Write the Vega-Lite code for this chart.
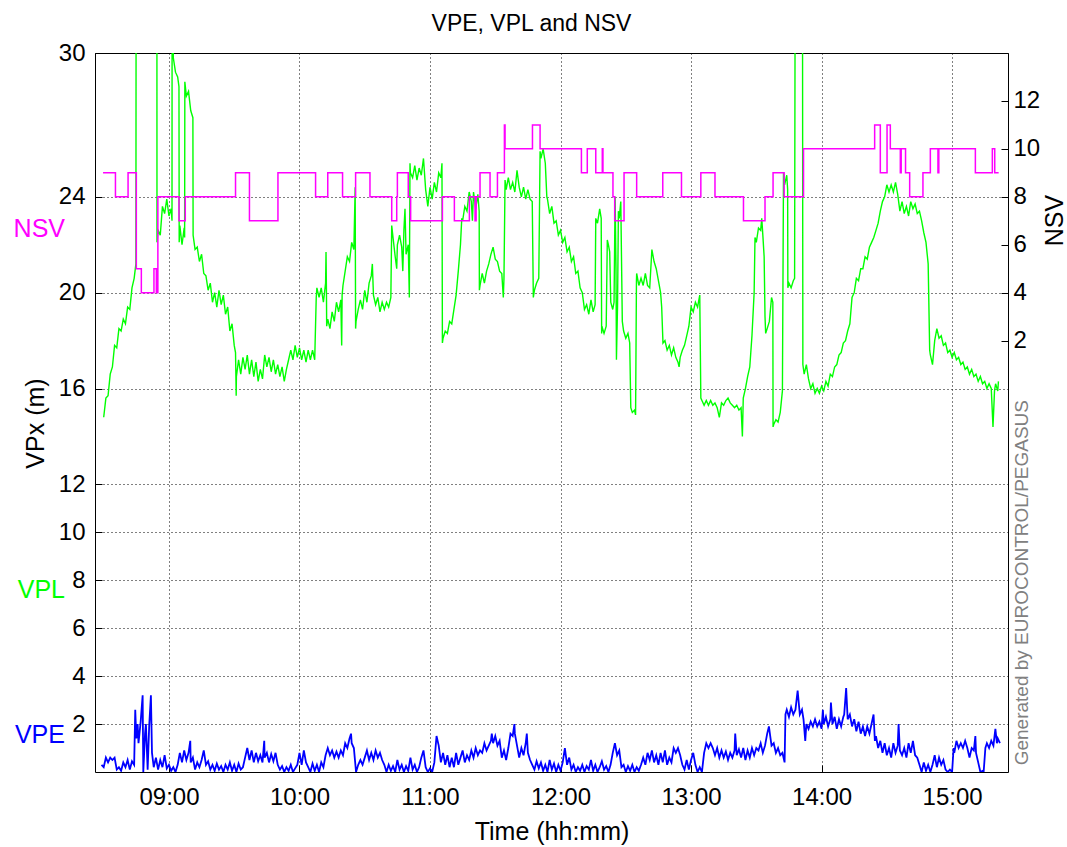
{
"$schema":"https://vega.github.io/schema/vega-lite/v6.json",
"width":913,"height":719,
"autosize":{"type":"none"},
"padding":{"left":95,"top":53,"right":59,"bottom":75},
"background":"#ffffff",
"title":{"text":"VPE, VPL and NSV","font":"Liberation Sans","fontSize":23,"fontWeight":"normal","color":"#000","offset":5,"anchor":"middle","dx":-20},
"config":{"view":{"stroke":"#000","strokeWidth":1},"font":"Liberation Sans",
 "axis":{"labelFont":"Liberation Sans","titleFont":"Liberation Sans","labelColor":"#000","titleColor":"#000","titleFontWeight":"normal","labelFontSize":24,"titleFontSize":25,"domain":false,"tickColor":"#000","gridColor":"#000","gridOpacity":1,"gridDash":[1,3],"gridWidth":1}},
"datasets":{
"vpl":[
{"t":510,"v":14.8},{"t":511,"v":15.6},{"t":512,"v":15.7},{"t":513,"v":16.6},{"t":514,"v":16.9},{"t":515,"v":17.8},{"t":516,"v":17.7},{"t":517,"v":18.5},{"t":518,"v":18.4},{"t":519,"v":18.9},{"t":520,"v":18.7},{"t":521,"v":19.4},{"t":522,"v":19.3},{"t":523,"v":20.2},{"t":524,"v":20.6},{"t":524.8,"v":21.2},{"t":525,"v":45},{"t":534.4,"v":45},{"t":534.5,"v":22.1},{"t":535,"v":22.6},{"t":536,"v":22.4},{"t":537,"v":23.6},{"t":538,"v":23.3},{"t":539,"v":23.9},{"t":540,"v":23.2},{"t":541,"v":23.5},{"t":541.4,"v":23.0},{"t":541.5,"v":45},{"t":542,"v":29.8},{"t":543,"v":29.2},{"t":544,"v":29.0},{"t":544.6,"v":28.6},{"t":544.7,"v":22.1},{"t":545,"v":22.8},{"t":546,"v":22.0},{"t":547,"v":22.7},{"t":547.2,"v":22.3},{"t":547.3,"v":28.8},{"t":548,"v":28.2},{"t":549,"v":28.4},{"t":550,"v":27.6},{"t":551,"v":27.3},{"t":551.1,"v":22.4},{"t":552,"v":21.8},{"t":553,"v":21.9},{"t":554,"v":21.3},{"t":555,"v":21.6},{"t":556,"v":20.8},{"t":557,"v":20.7},{"t":558,"v":20.1},{"t":559,"v":20.4},{"t":560,"v":19.6},{"t":561,"v":20.0},{"t":562,"v":19.4},{"t":563,"v":20.1},{"t":564,"v":19.5},{"t":565,"v":19.9},{"t":566,"v":19.1},{"t":567,"v":19.4},{"t":568,"v":18.4},{"t":569,"v":18.7},{"t":570,"v":17.8},{"t":570.6,"v":17.5},{"t":570.9,"v":15.7},{"t":571,"v":16.5},{"t":572,"v":17.2},{"t":573,"v":16.6},{"t":574,"v":17.3},{"t":575,"v":16.8},{"t":576,"v":17.4},{"t":577,"v":16.6},{"t":578,"v":17.2},{"t":579,"v":16.5},{"t":580,"v":17.1},{"t":581,"v":16.3},{"t":582,"v":16.8},{"t":583,"v":16.4},{"t":584,"v":17.4},{"t":585,"v":16.9},{"t":586,"v":17.3},{"t":587,"v":16.7},{"t":588,"v":17.2},{"t":589,"v":16.6},{"t":590,"v":17.0},{"t":591,"v":16.5},{"t":592,"v":16.9},{"t":593,"v":16.3},{"t":594,"v":16.8},{"t":595,"v":17.2},{"t":596,"v":17.6},{"t":597,"v":17.2},{"t":598,"v":17.8},{"t":599,"v":17.3},{"t":600,"v":17.7},{"t":601,"v":17.2},{"t":602,"v":17.6},{"t":603,"v":17.1},{"t":604,"v":17.6},{"t":605,"v":17.2},{"t":606,"v":17.6},{"t":607,"v":17.2},{"t":607.7,"v":19.8},{"t":608,"v":20.2},{"t":609,"v":19.8},{"t":610,"v":20.2},{"t":611,"v":19.6},{"t":612,"v":20.4},{"t":612.2,"v":21.7},{"t":612.4,"v":20.0},{"t":612.5,"v":18.6},{"t":613,"v":18.9},{"t":614,"v":18.5},{"t":615,"v":19.2},{"t":616,"v":18.8},{"t":617,"v":19.6},{"t":618,"v":19.2},{"t":619,"v":19.7},{"t":619.4,"v":17.8},{"t":619.6,"v":19.9},{"t":620,"v":20.3},{"t":621,"v":20.9},{"t":622,"v":21.5},{"t":623,"v":21.3},{"t":624,"v":22.1},{"t":625,"v":21.8},{"t":625.6,"v":24.4},{"t":625.8,"v":18.5},{"t":626,"v":18.8},{"t":627,"v":19.3},{"t":628,"v":19.7},{"t":629,"v":19.3},{"t":630,"v":20.1},{"t":631,"v":19.6},{"t":632,"v":20.4},{"t":633,"v":20.7},{"t":633.5,"v":21.2},{"t":634,"v":19.9},{"t":635,"v":19.5},{"t":636,"v":19.8},{"t":637,"v":19.2},{"t":638,"v":19.6},{"t":639,"v":19.3},{"t":640,"v":19.6},{"t":641,"v":19.4},{"t":642,"v":19.8},{"t":642.4,"v":22.8},{"t":643,"v":22.3},{"t":644,"v":21.5},{"t":644.7,"v":21.0},{"t":645,"v":22.0},{"t":646,"v":22.4},{"t":647,"v":21.9},{"t":647.5,"v":20.9},{"t":648,"v":22.6},{"t":648.5,"v":23.5},{"t":649,"v":21.6},{"t":650,"v":22.0},{"t":650.5,"v":19.8},{"t":650.8,"v":25.4},{"t":651,"v":25.0},{"t":652,"v":24.8},{"t":653,"v":25.3},{"t":654,"v":24.7},{"t":655,"v":25.2},{"t":656,"v":24.9},{"t":657,"v":25.6},{"t":658,"v":24.3},{"t":659,"v":23.6},{"t":660,"v":24.4},{"t":661,"v":23.9},{"t":662,"v":24.6},{"t":663,"v":24.2},{"t":664,"v":25.0},{"t":665,"v":24.8},{"t":665.5,"v":25.4},{"t":665.7,"v":17.9},{"t":666,"v":18.1},{"t":667,"v":18.4},{"t":668,"v":18.3},{"t":669,"v":18.8},{"t":670,"v":18.7},{"t":671,"v":19.3},{"t":672,"v":19.9},{"t":673,"v":20.9},{"t":674,"v":22.0},{"t":674.6,"v":23.1},{"t":675,"v":23.0},{"t":676,"v":23.6},{"t":677,"v":23.4},{"t":678,"v":24.2},{"t":679,"v":23.8},{"t":679.5,"v":23.0},{"t":680,"v":24.2},{"t":681,"v":23.5},{"t":682,"v":24.1},{"t":682.6,"v":23.4},{"t":682.7,"v":20.1},{"t":683,"v":20.3},{"t":684,"v":20.8},{"t":685,"v":20.4},{"t":686,"v":20.9},{"t":687,"v":21.2},{"t":688,"v":21.6},{"t":689,"v":21.9},{"t":690,"v":21.4},{"t":691,"v":21.3},{"t":692,"v":20.9},{"t":693,"v":20.8},{"t":693.7,"v":19.8},{"t":694,"v":20.6},{"t":694.5,"v":24.7},{"t":695,"v":24.3},{"t":696,"v":24.8},{"t":697,"v":24.3},{"t":698,"v":24.6},{"t":699,"v":24.2},{"t":700,"v":25.1},{"t":701,"v":24.4},{"t":702,"v":24.0},{"t":703,"v":24.4},{"t":704,"v":23.9},{"t":705,"v":24.3},{"t":706,"v":23.9},{"t":707,"v":23.8},{"t":707.5,"v":19.8},{"t":708,"v":20.1},{"t":709,"v":20.4},{"t":710,"v":20.6},{"t":710.6,"v":25.9},{"t":711,"v":25.6},{"t":712,"v":26.0},{"t":713,"v":25.4},{"t":713.7,"v":24.0},{"t":714,"v":23.9},{"t":715,"v":23.3},{"t":716,"v":23.6},{"t":717,"v":22.9},{"t":718,"v":23.0},{"t":719,"v":22.4},{"t":720,"v":22.6},{"t":721,"v":22.1},{"t":722,"v":22.3},{"t":723,"v":21.7},{"t":724,"v":21.9},{"t":725,"v":21.3},{"t":726,"v":21.5},{"t":727,"v":20.8},{"t":728,"v":20.9},{"t":729,"v":20.2},{"t":730,"v":20.0},{"t":731,"v":19.3},{"t":732,"v":19.5},{"t":733,"v":19.1},{"t":734,"v":19.7},{"t":735,"v":19.2},{"t":735.9,"v":19.5},{"t":736.2,"v":23.1},{"t":737,"v":22.9},{"t":738,"v":23.5},{"t":738.7,"v":23.1},{"t":738.9,"v":18.3},{"t":739,"v":18.6},{"t":740,"v":18.3},{"t":741,"v":18.6},{"t":741.5,"v":22.2},{"t":742,"v":22.0},{"t":742.6,"v":21.7},{"t":743.1,"v":19.6},{"t":744,"v":19.3},{"t":744.6,"v":19.6},{"t":745.1,"v":24.0},{"t":745.5,"v":21.0},{"t":745.7,"v":17.2},{"t":746.2,"v":19.4},{"t":746.6,"v":23.4},{"t":747,"v":23.1},{"t":747.7,"v":23.8},{"t":748.4,"v":18.8},{"t":749,"v":18.4},{"t":750,"v":18.1},{"t":751,"v":18.3},{"t":751.8,"v":17.9},{"t":752.3,"v":15.2},{"t":753,"v":15.0},{"t":754,"v":15.1},{"t":754.5,"v":14.9},{"t":754.9,"v":20.5},{"t":755,"v":20.8},{"t":756,"v":20.3},{"t":757,"v":20.6},{"t":758,"v":20.3},{"t":759,"v":20.8},{"t":760,"v":20.3},{"t":761,"v":20.2},{"t":762,"v":21.8},{"t":763,"v":21.3},{"t":764,"v":21.0},{"t":765,"v":20.5},{"t":766,"v":20.0},{"t":766.5,"v":19.4},{"t":767.1,"v":17.9},{"t":768,"v":18.0},{"t":769,"v":17.6},{"t":770,"v":17.8},{"t":771,"v":17.4},{"t":772,"v":17.7},{"t":773,"v":17.3},{"t":774,"v":17.1},{"t":774.5,"v":16.9},{"t":775,"v":17.3},{"t":776,"v":17.6},{"t":777,"v":17.8},{"t":778,"v":18.2},{"t":779,"v":18.6},{"t":780,"v":19.4},{"t":781,"v":19.2},{"t":782,"v":19.6},{"t":783,"v":19.4},{"t":784,"v":19.9},{"t":784.5,"v":15.6},{"t":785,"v":15.5},{"t":786,"v":15.3},{"t":787,"v":15.5},{"t":788,"v":15.3},{"t":789,"v":15.5},{"t":790,"v":15.3},{"t":791,"v":15.4},{"t":792,"v":15.2},{"t":793,"v":14.8},{"t":794,"v":15.4},{"t":795,"v":15.3},{"t":796,"v":15.5},{"t":797,"v":15.6},{"t":798,"v":15.4},{"t":799,"v":15.3},{"t":800,"v":15.2},{"t":801,"v":15.3},{"t":802,"v":15.1},{"t":803,"v":15.2},{"t":803.6,"v":14.0},{"t":804,"v":15.6},{"t":805,"v":16.0},{"t":806,"v":16.5},{"t":807,"v":16.9},{"t":808,"v":18.2},{"t":809,"v":20.0},{"t":809.4,"v":22.3},{"t":810,"v":22.1},{"t":811,"v":22.7},{"t":812,"v":22.6},{"t":812.5,"v":23.1},{"t":813,"v":22.4},{"t":813.6,"v":21.5},{"t":814,"v":19.0},{"t":814.3,"v":18.3},{"t":815,"v":18.5},{"t":816,"v":18.8},{"t":817,"v":19.8},{"t":817.6,"v":19.6},{"t":817.7,"v":14.4},{"t":818,"v":14.5},{"t":819,"v":14.7},{"t":820,"v":14.6},{"t":821,"v":15.0},{"t":822,"v":15.9},{"t":822.5,"v":25.0},{"t":823,"v":24.5},{"t":824,"v":24.9},{"t":824.4,"v":24.3},{"t":824.5,"v":20.2},{"t":825,"v":20.4},{"t":826,"v":20.2},{"t":827,"v":20.5},{"t":827.6,"v":20.6},{"t":828.1,"v":45},{"t":831.1,"v":45},{"t":831.4,"v":17.0},{"t":832,"v":16.6},{"t":833,"v":17.0},{"t":834,"v":16.4},{"t":835,"v":16.0},{"t":836,"v":16.2},{"t":837,"v":15.8},{"t":838,"v":16.0},{"t":839,"v":15.8},{"t":840,"v":16.1},{"t":841,"v":15.9},{"t":842,"v":16.3},{"t":843,"v":16.1},{"t":844,"v":16.6},{"t":845,"v":16.5},{"t":846,"v":16.9},{"t":847,"v":17.0},{"t":848,"v":17.4},{"t":849,"v":17.5},{"t":850,"v":17.9},{"t":851,"v":18.0},{"t":852,"v":18.4},{"t":853,"v":18.7},{"t":854,"v":19.8},{"t":855,"v":20.0},{"t":856,"v":20.6},{"t":857,"v":20.5},{"t":858,"v":21.0},{"t":859,"v":21.0},{"t":860,"v":21.5},{"t":861,"v":21.4},{"t":862,"v":21.9},{"t":863,"v":22.1},{"t":864,"v":22.3},{"t":865,"v":22.6},{"t":866,"v":22.9},{"t":867,"v":23.4},{"t":868,"v":23.8},{"t":869,"v":24.0},{"t":870,"v":24.5},{"t":871,"v":24.2},{"t":872,"v":24.5},{"t":873,"v":24.2},{"t":874,"v":24.6},{"t":875,"v":24.1},{"t":876,"v":23.4},{"t":877,"v":23.8},{"t":878,"v":23.3},{"t":879,"v":23.6},{"t":880,"v":23.2},{"t":881,"v":23.8},{"t":882,"v":23.5},{"t":883,"v":23.7},{"t":884,"v":23.3},{"t":885,"v":23.4},{"t":886,"v":23.0},{"t":887,"v":22.5},{"t":888,"v":22.1},{"t":889,"v":21.2},{"t":889.7,"v":17.6},{"t":890,"v":17.4},{"t":891,"v":17.0},{"t":892,"v":18.0},{"t":893,"v":18.5},{"t":894,"v":18.1},{"t":895,"v":18.2},{"t":896,"v":17.8},{"t":897,"v":17.9},{"t":898,"v":17.5},{"t":899,"v":17.6},{"t":900,"v":17.3},{"t":901,"v":17.5},{"t":902,"v":17.2},{"t":903,"v":17.3},{"t":904,"v":17.0},{"t":905,"v":17.1},{"t":906,"v":16.8},{"t":907,"v":16.9},{"t":908,"v":16.6},{"t":909,"v":16.8},{"t":910,"v":16.5},{"t":911,"v":16.6},{"t":912,"v":16.3},{"t":913,"v":16.5},{"t":914,"v":16.2},{"t":915,"v":16.3},{"t":916,"v":16.0},{"t":917,"v":16.2},{"t":918,"v":16.0},{"t":918.8,"v":14.4},{"t":919.5,"v":15.9},{"t":920,"v":16.2},{"t":921,"v":15.9},{"t":921.3,"v":16.3}
],
"vpe":[
{"t":509,"v":0.3},{"t":510,"v":0.2},{"t":511,"v":0.6},{"t":512,"v":0.4},{"t":513,"v":0.6},{"t":514,"v":0.5},{"t":515,"v":0.6},{"t":516,"v":0.1},{"t":517,"v":0.2},{"t":518,"v":0.05},{"t":519,"v":0.4},{"t":520,"v":0.2},{"t":521,"v":0.5},{"t":522,"v":0.1},{"t":523,"v":0.45},{"t":524,"v":0.3},{"t":524.5,"v":2.6},{"t":525,"v":1.4},{"t":525.6,"v":2.0},{"t":526,"v":1.2},{"t":527,"v":2.1},{"t":527.9,"v":3.2},{"t":528.2,"v":0.0},{"t":529,"v":1.6},{"t":529.4,"v":2.0},{"t":530.2,"v":0.1},{"t":530.9,"v":1.9},{"t":531.7,"v":3.2},{"t":532.2,"v":0.8},{"t":533,"v":0.2},{"t":534,"v":0.6},{"t":535,"v":0.1},{"t":536,"v":0.5},{"t":537,"v":0.2},{"t":538,"v":0.7},{"t":539,"v":0.15},{"t":540,"v":0.3},{"t":541,"v":0.05},{"t":542,"v":0.2},{"t":543,"v":0.0},{"t":544,"v":0.3},{"t":545,"v":0.8},{"t":546,"v":0.4},{"t":547,"v":0.9},{"t":548,"v":0.5},{"t":549,"v":0.8},{"t":549.8,"v":1.3},{"t":550,"v":0.4},{"t":551,"v":0.6},{"t":552,"v":0.1},{"t":553,"v":0.4},{"t":554,"v":0.2},{"t":555,"v":0.5},{"t":556,"v":0.9},{"t":557,"v":0.3},{"t":558,"v":0.45},{"t":559,"v":0.1},{"t":560,"v":0.3},{"t":561,"v":0.05},{"t":562,"v":0.35},{"t":563,"v":0.1},{"t":564,"v":0.25},{"t":565,"v":0.0},{"t":566,"v":0.3},{"t":567,"v":0.1},{"t":568,"v":0.4},{"t":569,"v":0.05},{"t":570,"v":0.3},{"t":571,"v":0.0},{"t":572,"v":0.35},{"t":573,"v":0.1},{"t":574,"v":0.2},{"t":575,"v":0.6},{"t":576,"v":1.0},{"t":577,"v":0.5},{"t":578,"v":0.9},{"t":579,"v":0.4},{"t":580,"v":0.8},{"t":581,"v":0.45},{"t":582,"v":0.7},{"t":583,"v":0.4},{"t":583.8,"v":1.3},{"t":584,"v":0.6},{"t":585,"v":0.8},{"t":586,"v":0.4},{"t":587,"v":0.75},{"t":588,"v":0.45},{"t":589,"v":0.8},{"t":590,"v":0.3},{"t":591,"v":0.1},{"t":592,"v":0.25},{"t":593,"v":0.0},{"t":594,"v":0.2},{"t":595,"v":0.05},{"t":596,"v":0.3},{"t":597,"v":0.0},{"t":598,"v":0.15},{"t":599,"v":0.3},{"t":600,"v":0.8},{"t":601,"v":0.3},{"t":602,"v":0.9},{"t":603,"v":0.4},{"t":604,"v":0.2},{"t":605,"v":0.0},{"t":606,"v":0.35},{"t":607,"v":0.05},{"t":608,"v":0.3},{"t":609,"v":0.0},{"t":610,"v":0.4},{"t":611,"v":0.2},{"t":612,"v":0.7},{"t":613,"v":1.0},{"t":614,"v":0.7},{"t":615,"v":0.9},{"t":616,"v":0.6},{"t":617,"v":0.85},{"t":618,"v":0.6},{"t":619,"v":0.9},{"t":620,"v":0.7},{"t":621,"v":1.2},{"t":622,"v":1.0},{"t":623,"v":1.4},{"t":623.7,"v":1.6},{"t":624,"v":1.2},{"t":625,"v":1.0},{"t":626,"v":0.0},{"t":627,"v":0.3},{"t":628,"v":0.5},{"t":629,"v":0.3},{"t":630,"v":0.6},{"t":631,"v":0.9},{"t":632,"v":0.5},{"t":633,"v":0.8},{"t":634,"v":0.5},{"t":635,"v":0.9},{"t":636,"v":0.6},{"t":637,"v":0.8},{"t":638,"v":0.5},{"t":639,"v":0.3},{"t":640,"v":0.0},{"t":641,"v":0.3},{"t":642,"v":0.05},{"t":643,"v":0.25},{"t":644,"v":0.0},{"t":645,"v":0.5},{"t":646,"v":0.1},{"t":647,"v":0.3},{"t":648,"v":0.0},{"t":649,"v":0.25},{"t":650,"v":0.05},{"t":651,"v":0.6},{"t":652,"v":0.1},{"t":653,"v":0.3},{"t":654,"v":0.0},{"t":655,"v":0.2},{"t":656,"v":0.6},{"t":657,"v":0.9},{"t":658,"v":0.2},{"t":659,"v":0.0},{"t":660,"v":0.15},{"t":661,"v":0.0},{"t":662,"v":0.4},{"t":663,"v":1.5},{"t":664,"v":1.1},{"t":665,"v":0.4},{"t":666,"v":0.8},{"t":667,"v":0.3},{"t":668,"v":0.7},{"t":669,"v":0.2},{"t":670,"v":0.6},{"t":671,"v":0.2},{"t":672,"v":0.8},{"t":673,"v":0.3},{"t":674,"v":0.6},{"t":675,"v":0.9},{"t":676,"v":0.4},{"t":677,"v":0.7},{"t":678,"v":0.5},{"t":679,"v":0.9},{"t":680,"v":0.6},{"t":681,"v":1.0},{"t":682,"v":0.7},{"t":683,"v":0.9},{"t":684,"v":0.8},{"t":685,"v":1.2},{"t":686,"v":0.9},{"t":687,"v":1.1},{"t":688,"v":1.3},{"t":688.4,"v":1.6},{"t":689,"v":1.2},{"t":690,"v":1.5},{"t":691,"v":1.1},{"t":692,"v":1.3},{"t":693,"v":0.6},{"t":694,"v":0.9},{"t":695,"v":0.5},{"t":696,"v":1.0},{"t":697,"v":1.6},{"t":698,"v":1.5},{"t":698.8,"v":2.0},{"t":699,"v":1.6},{"t":700,"v":1.1},{"t":701,"v":0.6},{"t":702,"v":1.0},{"t":703,"v":0.7},{"t":704,"v":1.2},{"t":704.5,"v":1.6},{"t":705,"v":0.8},{"t":706,"v":0.5},{"t":707,"v":0.3},{"t":708,"v":0.1},{"t":709,"v":0.45},{"t":710,"v":0.15},{"t":711,"v":0.4},{"t":712,"v":0.05},{"t":713,"v":0.3},{"t":714,"v":0.0},{"t":715,"v":0.5},{"t":716,"v":0.1},{"t":717,"v":0.35},{"t":718,"v":0.0},{"t":719,"v":0.3},{"t":720,"v":0.05},{"t":721,"v":0.4},{"t":722,"v":1.0},{"t":723,"v":0.3},{"t":724,"v":0.6},{"t":725,"v":0.1},{"t":726,"v":0.3},{"t":727,"v":0.0},{"t":728,"v":0.2},{"t":729,"v":0.05},{"t":730,"v":0.3},{"t":731,"v":0.0},{"t":732,"v":0.25},{"t":733,"v":0.1},{"t":734,"v":0.5},{"t":735,"v":0.05},{"t":736,"v":0.3},{"t":737,"v":0.0},{"t":738,"v":0.2},{"t":739,"v":0.45},{"t":740,"v":0.1},{"t":741,"v":0.25},{"t":742,"v":0.0},{"t":743,"v":0.3},{"t":744,"v":0.8},{"t":745,"v":1.2},{"t":746,"v":0.7},{"t":747,"v":0.9},{"t":748,"v":0.2},{"t":749,"v":0.3},{"t":750,"v":0.0},{"t":751,"v":0.25},{"t":752,"v":0.05},{"t":753,"v":0.3},{"t":754,"v":0.0},{"t":755,"v":0.2},{"t":756,"v":0.05},{"t":757,"v":0.3},{"t":758,"v":0.6},{"t":759,"v":0.3},{"t":760,"v":0.8},{"t":761,"v":0.5},{"t":762,"v":0.9},{"t":763,"v":0.4},{"t":764,"v":0.7},{"t":765,"v":0.3},{"t":766,"v":0.8},{"t":767,"v":0.4},{"t":768,"v":0.9},{"t":769,"v":0.3},{"t":770,"v":0.6},{"t":771,"v":0.4},{"t":772,"v":1.0},{"t":773,"v":0.8},{"t":774,"v":1.0},{"t":775,"v":0.7},{"t":776,"v":0.3},{"t":777,"v":0.1},{"t":778,"v":0.5},{"t":779,"v":0.1},{"t":780,"v":0.5},{"t":781,"v":0.8},{"t":782,"v":0.3},{"t":783,"v":0.0},{"t":784,"v":0.2},{"t":785,"v":0.0},{"t":786,"v":0.8},{"t":787,"v":1.2},{"t":788,"v":1.0},{"t":789,"v":1.2},{"t":790,"v":1.0},{"t":791,"v":0.7},{"t":792,"v":1.0},{"t":793,"v":0.6},{"t":794,"v":0.9},{"t":795,"v":0.6},{"t":796,"v":0.85},{"t":797,"v":0.5},{"t":798,"v":0.8},{"t":799,"v":0.6},{"t":800,"v":0.9},{"t":800.3,"v":1.6},{"t":801,"v":0.7},{"t":802,"v":0.95},{"t":803,"v":0.6},{"t":804,"v":1.0},{"t":805,"v":0.5},{"t":806,"v":0.9},{"t":807,"v":0.6},{"t":808,"v":1.0},{"t":809,"v":0.7},{"t":810,"v":1.0},{"t":811,"v":0.9},{"t":812,"v":1.2},{"t":813,"v":0.8},{"t":814,"v":1.1},{"t":815,"v":1.6},{"t":815.8,"v":1.9},{"t":816.4,"v":1.5},{"t":817,"v":1.1},{"t":818,"v":1.2},{"t":819,"v":0.8},{"t":820,"v":1.0},{"t":821,"v":0.7},{"t":822,"v":0.8},{"t":823,"v":0.4},{"t":823.4,"v":2.4},{"t":824,"v":2.6},{"t":825,"v":2.3},{"t":826,"v":2.7},{"t":827,"v":2.4},{"t":828,"v":2.6},{"t":829,"v":3.4},{"t":830,"v":2.4},{"t":831,"v":2.6},{"t":831.7,"v":2.2},{"t":832.5,"v":1.3},{"t":833,"v":2.0},{"t":834,"v":1.8},{"t":835,"v":2.1},{"t":836,"v":1.9},{"t":837,"v":2.2},{"t":838,"v":1.9},{"t":839,"v":2.1},{"t":840,"v":1.8},{"t":840.6,"v":2.6},{"t":841,"v":2.0},{"t":842,"v":2.3},{"t":843,"v":1.9},{"t":844,"v":2.2},{"t":844.3,"v":2.9},{"t":845,"v":2.0},{"t":846,"v":2.3},{"t":847,"v":1.8},{"t":848,"v":2.2},{"t":849,"v":1.9},{"t":850,"v":2.3},{"t":850.4,"v":2.4},{"t":851.3,"v":3.5},{"t":852,"v":2.2},{"t":853,"v":2.4},{"t":854,"v":1.9},{"t":855,"v":2.2},{"t":856,"v":1.7},{"t":857,"v":2.1},{"t":858,"v":1.6},{"t":859,"v":1.9},{"t":860,"v":1.5},{"t":861,"v":1.9},{"t":862,"v":1.6},{"t":863.9,"v":2.4},{"t":864.5,"v":1.3},{"t":865,"v":1.5},{"t":866,"v":1.0},{"t":867,"v":1.3},{"t":868,"v":0.8},{"t":869,"v":1.2},{"t":870,"v":0.7},{"t":871,"v":1.0},{"t":872,"v":0.6},{"t":873,"v":1.2},{"t":874,"v":0.8},{"t":875,"v":1.1},{"t":875.4,"v":2.0},{"t":876,"v":0.9},{"t":877,"v":0.7},{"t":878,"v":1.0},{"t":879,"v":0.6},{"t":880,"v":1.2},{"t":881,"v":0.8},{"t":882,"v":1.3},{"t":883,"v":0.7},{"t":884,"v":0.6},{"t":885,"v":0.3},{"t":886,"v":0.0},{"t":887,"v":0.4},{"t":888,"v":0.05},{"t":889,"v":0.3},{"t":890,"v":0.0},{"t":891,"v":0.3},{"t":892,"v":0.7},{"t":893,"v":0.2},{"t":894,"v":0.6},{"t":895,"v":0.3},{"t":896,"v":0.5},{"t":897,"v":0.1},{"t":898,"v":0.0},{"t":899,"v":0.1},{"t":900,"v":0.0},{"t":900.7,"v":1.0},{"t":901,"v":0.8},{"t":902,"v":1.3},{"t":903,"v":1.0},{"t":904,"v":1.2},{"t":905,"v":1.0},{"t":906,"v":1.3},{"t":907,"v":1.0},{"t":908,"v":0.6},{"t":909,"v":1.0},{"t":910,"v":0.9},{"t":910.7,"v":1.5},{"t":911,"v":0.8},{"t":912,"v":0.4},{"t":913,"v":0.0},{"t":914,"v":0.05},{"t":914.5,"v":0.0},{"t":915.3,"v":1.0},{"t":916,"v":1.2},{"t":917,"v":1.0},{"t":918,"v":1.3},{"t":919,"v":1.1},{"t":919.9,"v":1.8},{"t":920.6,"v":1.2},{"t":921,"v":1.4},{"t":922,"v":1.2}
],
"nsv":[
{"t":509.7,"n":9},{"t":515.4,"n":8},{"t":521.2,"n":9},{"t":525.0,"n":5},{"t":527.3,"n":4},{"t":533.1,"n":5},{"t":534.2,"n":4},{"t":534.9,"n":8},{"t":544.6,"n":7},{"t":547.5,"n":8},{"t":570.6,"n":9},{"t":577.0,"n":7},{"t":590.1,"n":9},{"t":607.4,"n":8},{"t":613.0,"n":9},{"t":619.8,"n":8},{"t":625.8,"n":9},{"t":632.4,"n":8},{"t":642.4,"n":7},{"t":644.7,"n":8},{"t":645.0,"n":9},{"t":650.0,"n":8},{"t":651.1,"n":7},{"t":665.7,"n":8},{"t":671.2,"n":7},{"t":678.1,"n":8},{"t":680.7,"n":7},{"t":681.2,"n":8},{"t":683.0,"n":9},{"t":687.6,"n":8},{"t":691.0,"n":9},{"t":694.2,"n":11},{"t":694.5,"n":10},{"t":707.1,"n":11},{"t":710.6,"n":10},{"t":729.6,"n":9},{"t":732.3,"n":10},{"t":736.2,"n":9},{"t":739.2,"n":10},{"t":739.5,"n":9},{"t":744.1,"n":8},{"t":744.9,"n":7},{"t":749.2,"n":9},{"t":755.0,"n":8},{"t":767.0,"n":9},{"t":775.6,"n":8},{"t":784.5,"n":9},{"t":791.0,"n":8},{"t":804.1,"n":7},{"t":814.0,"n":8},{"t":817.7,"n":9},{"t":822.8,"n":8},{"t":831.7,"n":10},{"t":864.4,"n":11},{"t":867.0,"n":9},{"t":870.1,"n":11},{"t":871.6,"n":10},{"t":876.2,"n":9},{"t":876.6,"n":10},{"t":878.6,"n":9},{"t":880.5,"n":8},{"t":886.6,"n":9},{"t":890.0,"n":10},{"t":893.5,"n":9},{"t":893.9,"n":10},{"t":910.7,"n":9},{"t":918.5,"n":10},{"t":919.6,"n":9},{"t":921.4,"n":9}
],
"labels":[{"t":492.2,"v":22.67,"s":"NSV"},{"t":492.2,"v":7.58,"s":"VPL"},{"t":492.2,"v":1.54,"s":"VPE"}],
"credit":[{"t":932.2,"v":7.9,"s":"Generated by EUROCONTROL/PEGASUS"}]
},
"layer":[
 {"layer":[
  {"data":{"name":"vpe"},"mark":{"type":"line","color":"#0000ff","strokeWidth":1.8,"clip":true},
   "encoding":{
    "x":{"field":"t","type":"quantitative","scale":{"domain":[506,925.7],"nice":false,"zero":false},
      "axis":{"values":[540,600,660,720,780,840,900],"labelExpr":"(datum.value < 600 ? '0' : '') + floor(datum.value/60) + ':00'","grid":true,"tickSize":-7,"labelPadding":20,"title":"Time (hh:mm)","titleY":59,"titleBaseline":"middle"}},
    "y":{"field":"v","type":"quantitative","scale":{"domain":[0,30],"nice":false,"zero":false},
      "axis":{"values":[2,4,6,8,10,12,16,20,24,30],"grid":true,"tickSize":-7,"labelPadding":17,"title":"VPx  (m)","titleX":-60,"titleY":370,"titleBaseline":"middle","titleAngle":270}}}},
  {"data":{"name":"vpl"},"mark":{"type":"line","color":"#00ff00","strokeWidth":1.4,"clip":true},
   "encoding":{"x":{"field":"t","type":"quantitative"},"y":{"field":"v","type":"quantitative"}}},
  {"data":{"name":"labels"},"mark":{"type":"text","align":"right","baseline":"middle","fontSize":25,"font":"Liberation Sans"},
   "encoding":{"x":{"field":"t","type":"quantitative"},"y":{"field":"v","type":"quantitative"},"text":{"field":"s"},
    "color":{"field":"s","type":"nominal","scale":{"domain":["NSV","VPL","VPE"],"range":["#ff00ff","#00ff00","#0000ff"]},"legend":null}}},
  {"data":{"name":"credit"},"mark":{"type":"text","align":"center","baseline":"middle","angle":270,"fontSize":19,"font":"Liberation Sans","color":"#808080"},
   "encoding":{"x":{"field":"t","type":"quantitative"},"y":{"field":"v","type":"quantitative"},"text":{"field":"s"}}}
 ]},
 {"data":{"name":"nsv"},"mark":{"type":"line","color":"#ff00ff","strokeWidth":1.5,"interpolate":"step-after","clip":true},
  "encoding":{"x":{"field":"t","type":"quantitative"},
   "y":{"field":"n","type":"quantitative","scale":{"domain":[-16,14],"nice":false,"zero":false},
    "axis":{"orient":"right","values":[2,4,6,8,10,12],"grid":false,"tickSize":-7,"labelPadding":12,"title":"NSV","titleX":46,"titleY":167,"titleBaseline":"middle","titleAngle":270}}}}
],
"resolve":{"scale":{"y":"independent"}}
}
